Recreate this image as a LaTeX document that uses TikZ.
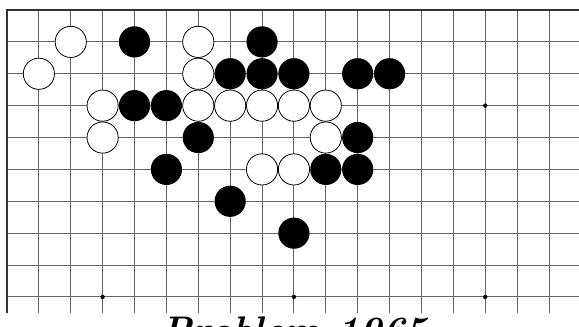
\documentclass[tikz,border=0pt]{standalone}
\begin{document}
\begin{tikzpicture}[x=31.88pt,y=-31.88pt,
  gridline/.style={line width=0.9pt,black!60},
  edgeline/.style={line width=1.5pt,black!80},
  blackstone/.style={fill=black},
  whitestone/.style={fill=white,draw=black,line width=0.8pt}]
\useasboundingbox (-7pt,10pt) rectangle (572pt,-317pt);
\clip (-7pt,10pt) rectangle (572pt,-317pt);
\fill[white] (-7pt,10pt) rectangle (572pt,-317pt);
% grid
\foreach \j in {1,...,9} \draw[gridline] (0,\j) -- (18,\j);
\foreach \i in {1,...,17} \draw[gridline] (\i,0) -- (\i,9.5);
\draw[edgeline] (18,0) -- (0,0) -- (0,9.5);
% star points
\foreach \p in {(15,3),(3,9),(9,9),(15,9)} \fill \p circle (2.2pt);
% stones
\def\rr{15.6pt}
\foreach \p in {(4,1),(8,1),(7,2),(8,2),(9,2),(11,2),(12,2),(4,3),(5,3),(6,4),(11,4),(5,5),(10,5),(11,5),(7,6),(9,7)}
  \fill[blackstone] \p circle (\rr);
\foreach \p in {(2,1),(6,1),(1,2),(6,2),(3,3),(6,3),(7,3),(8,3),(9,3),(10,3),(3,4),(10,4),(8,5),(9,5)}
  \draw[whitestone] \p circle (\rr);
% title
\node[anchor=base,inner sep=0pt,font=\fontsize{38.5}{40}\selectfont\bfseries\itshape] (title) at (9.03,10.47) {Problem 1965};
\end{tikzpicture}
\end{document}
